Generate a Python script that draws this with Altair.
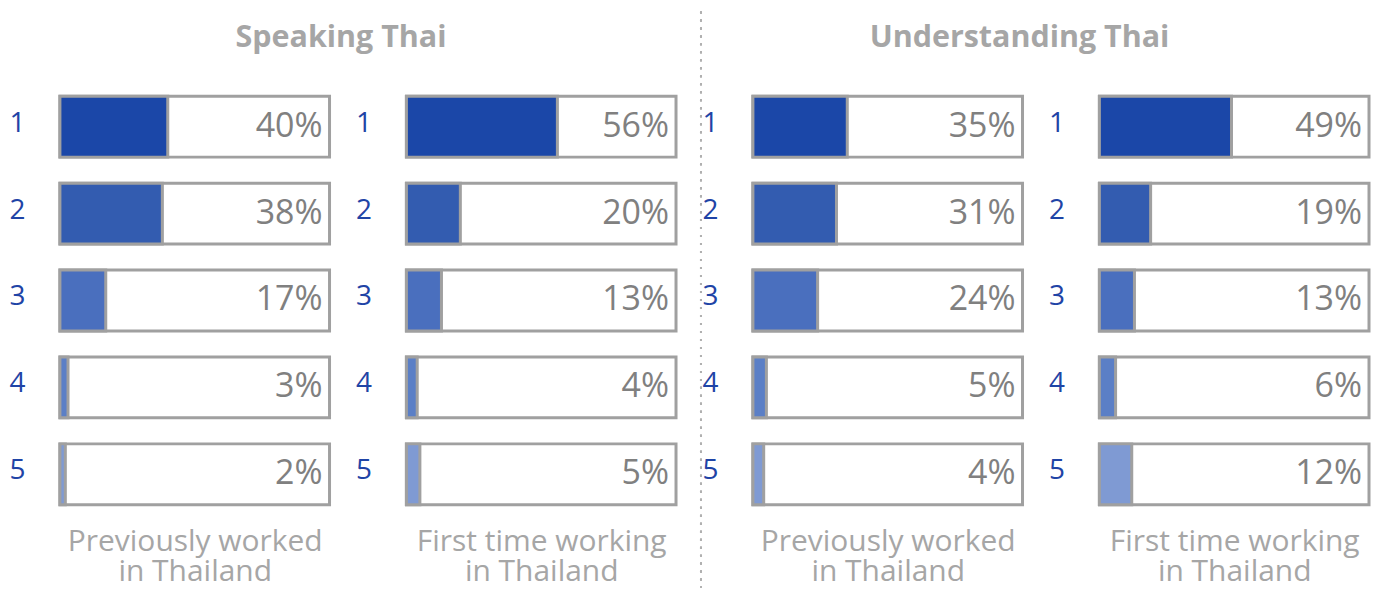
import altair as alt
import pandas as pd

rows = [1, 2, 3, 4, 5]
speaking_prev = [40, 38, 17, 3, 2]
speaking_first = [56, 20, 13, 4, 5]
understanding_prev = [35, 31, 24, 5, 4]
understanding_first = [49, 19, 13, 6, 12]

row_colors = ["#1b47a8", "#335cb0", "#4a6fbe", "#5b7fc6", "#7f9ad3"]
group_titles = ["Speaking Thai", "Understanding Thai"]
sub_titles = [["Previously worked", "in Thailand"], ["First time working", "in Thailand"]]

FONT = "Open Sans"
BORDER = "#a0a0a0"
TEXT_GRAY = "#a6a6a6"
PANEL_W = 270


def panel(values, subtitle, title=None, title_dx=0, separator=False):
    df = pd.DataFrame({
        "row": rows,
        "value": values,
        "full": [100] * len(rows),
        "label": [f"{v}%" for v in values],
    })
    y = alt.Y(
        "row:O",
        scale=alt.Scale(domain=rows, paddingInner=0.3, paddingOuter=0),
        axis=alt.Axis(
            title=None, domain=False, ticks=False, labelPadding=35,
            labelFontSize=28, labelColor="#1f44a6", labelFont=FONT,
            labelFontWeight="normal", labelOffset=-3,
        ),
    )
    xscale = alt.Scale(domain=[0, 100])
    base = alt.Chart(df)
    box = base.mark_bar(fill="white", stroke=BORDER, strokeWidth=3).encode(
        x=alt.X(
            "full:Q", scale=xscale,
            axis=alt.Axis(
                labels=False, ticks=False, domain=False, grid=False,
                title=subtitle, titleFontSize=30, titleColor=TEXT_GRAY,
                titleFont=FONT, titleFontWeight="normal", titlePadding=21.5,
                titleLineHeight=30,
            ),
        ),
        y=y,
    )
    fill = base.mark_bar(stroke=BORDER, strokeWidth=3).encode(
        x=alt.X("value:Q", scale=xscale),
        y=alt.Y("row:O"),
        color=alt.Color("row:O", scale=alt.Scale(domain=rows, range=row_colors), legend=None),
    )
    text = base.mark_text(
        align="right", baseline="middle", dx=-7, fontSize=34, font=FONT, color="#808080"
    ).encode(
        x=alt.X("full:Q", scale=xscale),
        y=alt.Y("row:O"),
        text="label:N",
    )
    layers = [box, fill, text]
    if separator:
        rule = alt.Chart(df).mark_rule(
            color="#b0b0b0", strokeWidth=2, strokeDash=[2, 6]
        ).encode(x=alt.value(295), y=alt.value(-85), y2=alt.value(492))
        layers.append(rule)
    ch = alt.layer(*layers).properties(width=PANEL_W, height=409)
    if title:
        ch = ch.properties(
            title=alt.TitleParams(
                title, fontSize=30.5, fontWeight="bold", color=TEXT_GRAY, font=FONT,
                anchor="middle", dx=title_dx, offset=41,
            )
        )
    return ch


chart = alt.hconcat(
    panel(speaking_prev, sub_titles[0], group_titles[0], title_dx=146.5),
    panel(speaking_first, sub_titles[1], separator=True),
    panel(understanding_prev, sub_titles[0], group_titles[1], title_dx=132),
    panel(understanding_first, sub_titles[1]),
    spacing=77,
    bounds="flush",
).properties(
    padding={"left": 0, "top": 2, "right": 0, "bottom": 4}
).configure_view(stroke=None)

chart.save("out.html", embed_options={"renderer": "svg", "actions": False})
